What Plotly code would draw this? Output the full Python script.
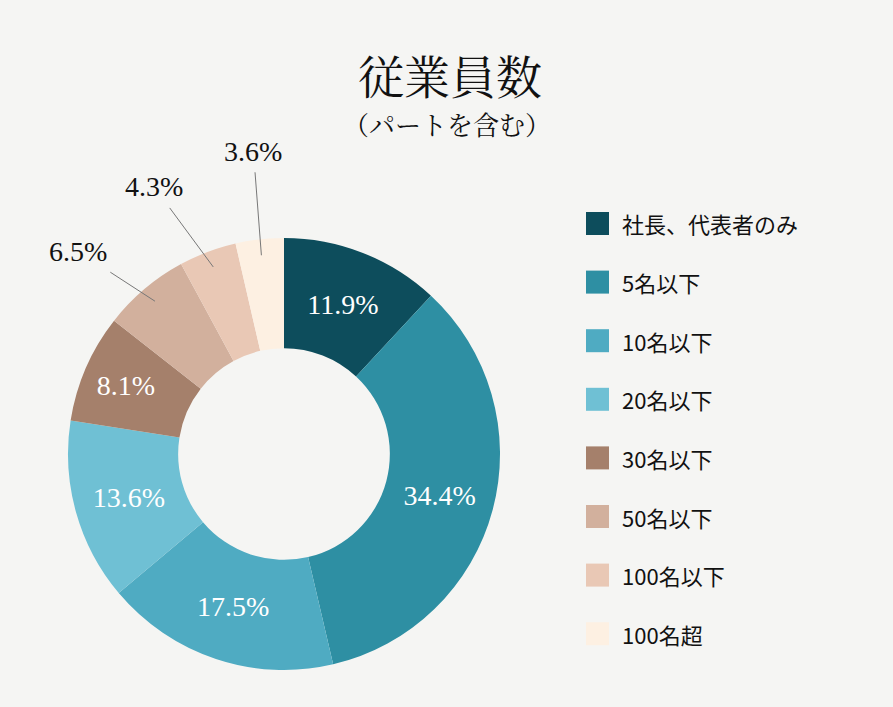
import math
import plotly.graph_objects as go

categories = ["社長、代表者のみ", "5名以下", "10名以下", "20名以下", "30名以下", "50名以下", "100名以下", "100名超"]
values = [11.9, 34.4, 17.5, 13.6, 8.1, 6.5, 4.3, 3.6]
colors = ["#0d4d5c", "#2e8fa3", "#4fabc2", "#6fc0d4", "#a5806b", "#d2b09d", "#e9c8b5", "#fdf0e2"]
# label placement: inside the ring, or outside with a leader line (pixel offset of the text)
inside = [True, True, True, True, True, False, False, False]
outside_offsets = {5: (-77, -50), 6: (-59, -80), 7: (-8, -104)}

W, H = 893, 707
cx, cy, R = 284, 454, 216
LABEL_FONT = dict(family="Liberation Serif, serif", size=28)

fig = go.Figure()
fig.add_trace(go.Pie(
    labels=categories,
    values=values,
    sort=False,
    direction="clockwise",
    rotation=0,
    hole=0.49,
    marker=dict(colors=colors, line=dict(width=0)),
    texttemplate="%{value:.1f}%",
    textposition=["inside" if f else "none" for f in inside],
    insidetextorientation="horizontal",
    textfont=dict(**LABEL_FONT, color="#ffffff"),
    showlegend=False,
    hoverinfo="none",
    domain=dict(x=[(cx - R) / W, (cx + R) / W], y=[(H - cy - R) / H, (H - cy + R) / H]),
))

annotations = [
    dict(text="従業員数", x=450 / W, y=1 - 74 / H, xref="paper", yref="paper", showarrow=False,
         font=dict(family="Noto Serif CJK JP, serif", size=46, color="#111111"), xanchor="center", yanchor="middle"),
    dict(text="（パートを含む）", x=447 / W, y=1 - 123 / H, xref="paper", yref="paper", showarrow=False,
         font=dict(family="Noto Serif CJK JP, serif", size=26, color="#111111"), xanchor="center", yanchor="middle"),
]

# leader-line labels for small slices, anchored at slice mid-angle
total = sum(values)
cum = 0.0
for i, v in enumerate(values):
    mid = (cum + v / 2) / total * 2 * math.pi
    cum += v
    if inside[i]:
        continue
    r = 200
    px = cx + r * math.sin(mid)
    py = cy - r * math.cos(mid)
    ax, ay = outside_offsets[i]
    annotations.append(dict(
        text=f"{v:.1f}%", x=px / W, y=1 - py / H, xref="paper", yref="paper",
        showarrow=True, arrowhead=0, arrowwidth=1, arrowcolor="#777777",
        ax=ax, ay=ay, borderpad=5,
        font=dict(**LABEL_FONT, color="#111111"),
    ))

shapes = []
lx0, ly0, step, sq = 586, 223.5, 58.6, 23
for i, (c, col) in enumerate(zip(categories, colors)):
    yc = ly0 + i * step
    shapes.append(dict(type="rect", xref="paper", yref="paper",
                       x0=lx0 / W, x1=(lx0 + sq) / W, y0=1 - (yc - sq / 2) / H, y1=1 - (yc + sq / 2) / H,
                       fillcolor=col, line=dict(width=0)))
    annotations.append(dict(text=c, x=620 / W, y=1 - yc / H, xref="paper", yref="paper", showarrow=False,
                            xanchor="left", yanchor="middle",
                            font=dict(family="Noto Sans CJK JP, sans-serif", size=22, color="#111111")))

fig.update_layout(
    width=W, height=H,
    margin=dict(l=0, r=0, t=0, b=0),
    paper_bgcolor="#f5f5f3",
    plot_bgcolor="#f5f5f3",
    annotations=annotations,
    shapes=shapes,
)
fig.write_html("out.html", config={"displayModeBar": False},
               post_script="document.body.style.margin='0';document.body.style.background='#f5f5f3';")
